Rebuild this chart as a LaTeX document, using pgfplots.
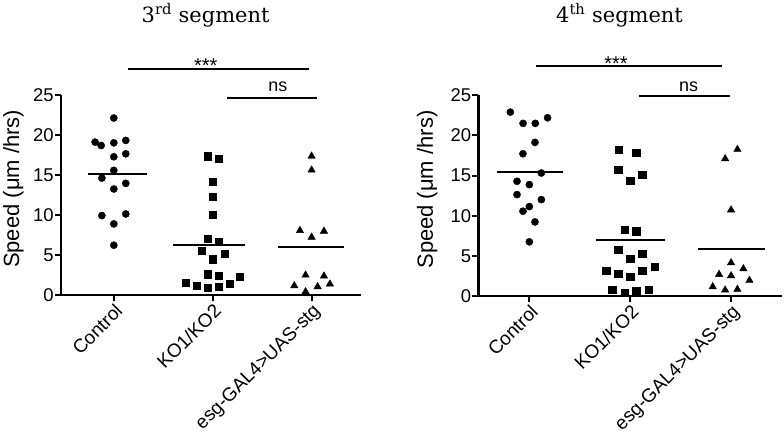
\documentclass[border=0pt]{standalone}
\usepackage{pgfplots}
\pgfplotsset{compat=1.18}
\usepackage{fontspec}
\setmainfont{Liberation Sans}
\newfontfamily\titlefont{DejaVu Serif}
\begin{document}
\begin{tikzpicture}
\pgfplotsset{
  dotplot/.style={
    scale only axis, clip=false,
    axis x line*=bottom, axis y line*=left,
    axis line style={line width=2.5pt, black},
    ymin=0, ymax=25, ytick={0,5,...,25},
    xtick={1,2,3}, xticklabels={Control,KO1/KO2,esg-GAL4>UAS-stg},
    tick align=outside, major tick length=6pt,
    every tick/.style={line width=2pt, black},
    tick label style={font=\fontsize{18.5}{20}\selectfont},
    /pgf/number format/assume math mode=true,
    xticklabel style={rotate=45, anchor=north east, inner sep=1pt, font=\fontsize{19}{20}\selectfont},
    yticklabel style={inner sep=1pt},
    ylabel={Speed (μm /hrs)},
    ylabel style={font=\fontsize{22}{24}\selectfont, anchor=center},
  },
  circ/.style={only marks, mark=*, mark size=3.6pt, black},
  sq/.style={only marks, mark=square*, mark size=3.6pt, black},
  tri/.style={only marks, mark=triangle*, mark size=4.3pt, black},
  meanline/.style={line width=2pt, black, no marks},
  sigline/.style={line width=2pt, black, no marks},
}
% ---------------- left panel ----------------
\begin{axis}[dotplot, at={(60pt,-294pt)}, anchor=south west,
  width=300pt, height=200.5pt, xmin=0.465, xmax=3.495,
  ylabel style={at={(axis description cs:-0.158,0.53)}}]
\addplot[circ] coordinates {
 (0.811,19.09) (0.872,18.67) (1.0,19.0) (1.121,19.3) (1.0,22.1)
 (1.0,17.26) (1.121,17.63) (1.0,15.56) (0.879,14.6) (1.121,13.94)
 (1.0,13.24) (0.879,9.92) (1.121,10.12) (1.0,8.88) (1.0,6.22)};
\addplot[sq] coordinates {
 (1.946,17.34) (2.064,16.97) (2.0,14.15) (2.0,12.24) (2.0,10.04)
 (1.946,7.05) (2.064,6.64) (1.886,5.56) (2.125,5.19) (2.0,4.48)
 (1.946,2.61) (2.064,2.41) (2.276,2.24) (1.727,1.49) (1.838,1.12)
 (1.946,0.91) (2.064,1.04) (2.172,1.37)};
\addplot[tri] coordinates {
 (3.0,17.34) (3.0,15.6) (2.882,8.05) (3.0,7.22) (3.125,7.97)
 (2.939,2.49) (3.125,2.37) (2.825,1.16) (3.061,1.04) (3.185,1.37)
 (2.939,0.41)};
\addplot[meanline] coordinates {(0.737,15.1) (1.333,15.1)};
\addplot[meanline] coordinates {(1.603,6.25) (2.326,6.25)};
\addplot[meanline] coordinates {(2.664,5.95) (3.326,5.95)};
\addplot[sigline] coordinates {(1.141,28.27) (2.97,28.27)};
\addplot[sigline] coordinates {(2.148,24.65) (3.058,24.65)};
\node[anchor=base, inner sep=0pt, font=\fontsize{20}{22}\selectfont] at (axis cs:1.93,27.74) {***};
\node[anchor=base, inner sep=0pt, font=\fontsize{18}{20}\selectfont] at (axis cs:2.66,25.44) {ns};
\node[anchor=base, font=\titlefont\fontsize{21}{24}\selectfont] at (axis description cs:0.483,1.363) {3\textsuperscript{rd} segment};
\end{axis}
% ---------------- right panel ----------------
\begin{axis}[dotplot, at={(478pt,-295pt)}, anchor=south west,
  width=304pt, height=201pt, xmin=0.495, xmax=3.505,
  ylabel style={at={(axis description cs:-0.169,0.53)}}]
\addplot[circ] coordinates {
 (0.812,22.9) (0.938,21.5) (1.059,21.5) (1.181,22.2)
 (1.056,19.13) (0.937,17.72) (1.119,15.32) (0.878,14.29) (1.0,13.87)
 (0.878,12.63) (1.119,12.01) (1.0,11.14) (0.937,10.56) (1.056,9.23)
 (1.0,6.75)};
\addplot[sq] coordinates {
 (1.888,18.22) (2.059,17.81) (1.881,15.73) (2.119,15.11) (2.0,14.37)
 (1.944,8.28) (2.059,8.07) (1.881,5.76) (2.119,5.26) (2.0,4.68)
 (2.241,3.69) (1.762,3.19) (2.119,3.19) (1.881,2.77) (2.0,2.36)
 (1.822,0.75) (1.944,0.41) (2.059,0.62) (2.182,0.75)};
\addplot[tri] coordinates {
 (2.941,17.1) (3.063,18.26) (3.0,10.72) (3.0,4.14) (3.122,3.40)
 (2.881,2.69) (3.0,2.53) (3.182,1.95) (2.818,1.16) (2.941,0.75)
 (3.063,0.83)};
\addplot[meanline] coordinates {(0.683,15.4) (1.337,15.4)};
\addplot[meanline] coordinates {(1.656,6.96) (2.34,6.96)};
\addplot[meanline] coordinates {(2.67,5.88) (3.34,5.88)};
\addplot[sigline] coordinates {(1.07,28.6) (2.91,28.6)};
\addplot[sigline] coordinates {(2.086,24.96) (2.993,24.96)};
\node[anchor=base, inner sep=0pt, font=\fontsize{20}{22}\selectfont] at (axis cs:1.86,28.1) {***};
\node[anchor=base, inner sep=0pt, font=\fontsize{18}{20}\selectfont] at (axis cs:2.58,25.5) {ns};
\node[anchor=base, font=\titlefont\fontsize{21}{24}\selectfont] at (axis description cs:0.465,1.365) {4\textsuperscript{th} segment};
\end{axis}
\path (0pt,0pt) rectangle (784pt,-441pt);
\end{tikzpicture}
\end{document}
